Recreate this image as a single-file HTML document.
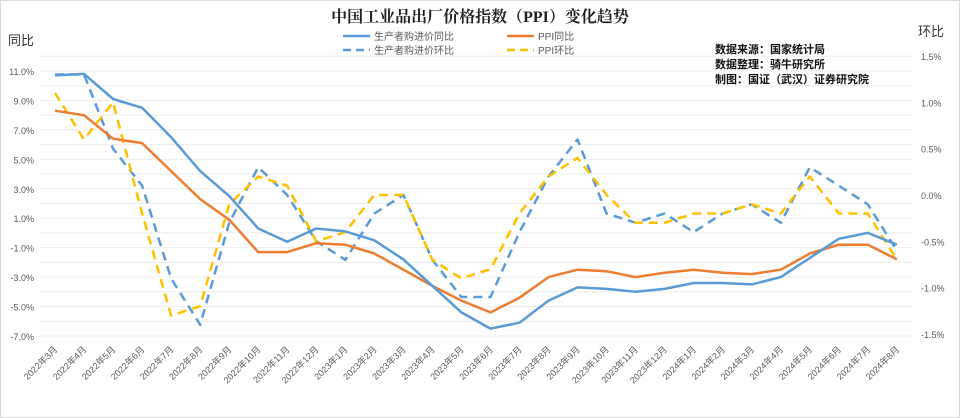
<!DOCTYPE html>
<html><head><meta charset="utf-8"><style>
body{margin:0;background:#fff}
svg{display:block;font-family:"Liberation Sans","Noto Sans CJK SC",sans-serif}
</style></head><body>
<svg id="c" width="960" height="418" xmlns="http://www.w3.org/2000/svg">
<rect x="0.5" y="0.5" width="959" height="417" fill="#fff" stroke="#d9d9d9"/>
<text x="480" y="22" text-anchor="middle" font-family="'Liberation Serif','Noto Serif CJK SC',serif" font-weight="bold" font-size="16" fill="#222">中国工业品出厂价格指数（PPI）变化趋势</text>
<text x="8" y="45" font-size="13" fill="#333">同比</text>
<text x="918" y="36" font-size="13" fill="#333">环比</text>
<line x1="343" y1="36" x2="370" y2="36" stroke="#5b9bd5" stroke-width="2.5"/>
<text x="374" y="40" font-size="10" fill="#595959">生产者购进价同比</text>
<line x1="343" y1="50" x2="370" y2="50" stroke="#5b9bd5" stroke-width="2.5" stroke-dasharray="8,5"/>
<text x="374" y="54" font-size="10" fill="#595959">生产者购进价环比</text>
<line x1="507" y1="36" x2="534" y2="36" stroke="#ed7d31" stroke-width="2.5"/>
<text x="538" y="40" font-size="10" fill="#595959">PPI同比</text>
<line x1="507" y1="50" x2="534" y2="50" stroke="#ffc000" stroke-width="2.5" stroke-dasharray="8,5"/>
<text x="538" y="54" font-size="10" fill="#595959">PPI环比</text>
<text x="715" y="53" font-size="11" font-weight="bold" fill="#111">数据来源：国家统计局</text>
<text x="715" y="68" font-size="11" font-weight="bold" fill="#111">数据整理：骑牛研究所</text>
<text x="715" y="83" font-size="11" font-weight="bold" fill="#111">制图：国证（武汉）证券研究院</text>
<g id="g"></g>
</svg>
<script>
var g=document.getElementById('g'),NS='http://www.w3.org/2000/svg',h='';
function yl(v){return 71+(11-v)*14.72}
function yr(v){return 195-v*92.7}
function xi(i){return 55+i*29.03}
for(var v=12;v>=-7;v--){h+='<line x1="40" x2="912" y1="'+yl(v)+'" y2="'+yl(v)+'" stroke="#ececec" stroke-width="1"/>';}
for(var v=11;v>=-7;v-=2){h+='<text x="34" y="'+(yl(v)+4)+'" text-anchor="end" font-size="9" fill="#595959">'+v.toFixed(1)+'%</text>';}
for(var k=-3;k<=3;k++){var v=k*0.5;h+='<text x="921" y="'+(yr(v)+4)+'" font-size="9" fill="#595959">'+v.toFixed(1)+'%</text>';}
var lab=[];for(var i=0;i<30;i++){var m=3+i,y=2022+Math.floor((m-1)/12);m=(m-1)%12+1;lab.push(y+'年'+m+'月');}
lab.forEach(function(t,i){var x=xi(i)+3,y=350;h+='<text x="'+x+'" y="'+y+'" text-anchor="end" font-size="9" fill="#595959" transform="rotate(-45 '+x+' '+y+')">'+t+'</text>';});
var bs=[10.7,10.8,9.1,8.5,6.5,4.2,2.5,0.3,-0.6,0.3,0.1,-0.5,-1.8,-3.6,-5.4,-6.5,-6.1,-4.6,-3.7,-3.8,-4.0,-3.8,-3.4,-3.4,-3.5,-3.0,-1.7,-0.4,0.0,-0.8];
var os=[8.3,8.0,6.4,6.1,4.2,2.3,0.9,-1.3,-1.3,-0.7,-0.8,-1.4,-2.5,-3.6,-4.6,-5.4,-4.4,-3.0,-2.5,-2.6,-3.0,-2.7,-2.5,-2.7,-2.8,-2.5,-1.4,-0.8,-0.8,-1.8];
var bd=[1.3,1.3,0.5,0.1,-0.9,-1.4,-0.3,0.3,0.0,-0.5,-0.7,-0.2,0.0,-0.7,-1.1,-1.1,-0.4,0.2,0.6,-0.2,-0.3,-0.2,-0.4,-0.2,-0.1,-0.3,0.3,0.1,-0.1,-0.6];
var yd=[1.1,0.6,1.0,-0.2,-1.3,-1.2,-0.1,0.2,0.1,-0.5,-0.4,0.0,0.0,-0.7,-0.9,-0.8,-0.2,0.2,0.4,0.0,-0.3,-0.3,-0.2,-0.2,-0.1,-0.2,0.2,-0.2,-0.2,-0.7];
function pl(d,f,c,dash){return '<polyline fill="none" stroke="'+c+'" stroke-width="2.5" stroke-linejoin="round" '+(dash?'stroke-dasharray="9,6"':'')+' points="'+d.map(function(v,i){return xi(i).toFixed(1)+','+f(v).toFixed(1)}).join(' ')+'"/>';}
h+=pl(bd,yr,'#5b9bd5',1)+pl(yd,yr,'#ffc000',1)+pl(os,yl,'#ed7d31',0)+pl(bs,yl,'#5b9bd5',0);
g.innerHTML=h;
</script>
</body></html>
